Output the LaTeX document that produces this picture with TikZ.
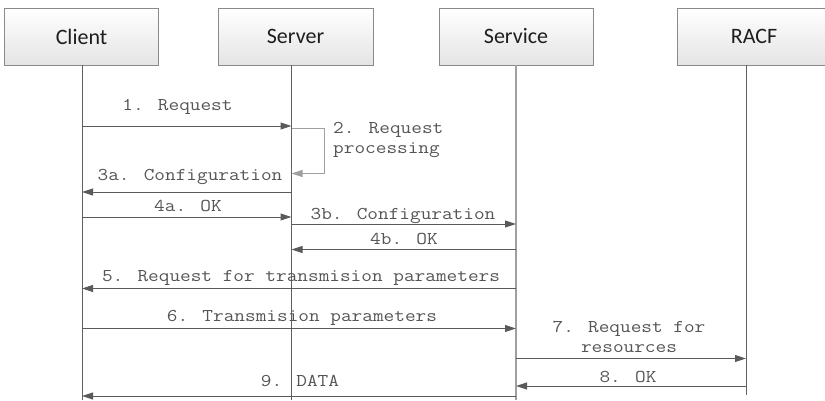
\documentclass[tikz,border=0pt]{standalone}
\usepackage{fontspec}
\setmainfont{Carlito}
\newfontfamily\msgfont{Latin Modern Mono}[FakeStretch=1.15]
\usetikzlibrary{arrows.meta}

\definecolor{boxline}{HTML}{8A8A8A}
\definecolor{boxbot}{HTML}{E4E4E4}
\definecolor{titlec}{HTML}{1E1E1E}
\definecolor{arrowc}{HTML}{5A5A5A}
\definecolor{lifec}{HTML}{606060}
\definecolor{lightc}{HTML}{A0A0A0}
\definecolor{labelc}{HTML}{555555}

\begin{document}
\begin{tikzpicture}[x=1bp,y=-1bp,
  actor/.style={draw=boxline, line width=1bp, top color=white, bottom color=boxbot,
    minimum height=57bp, inner sep=0pt, text=titlec,
    font=\fontsize{22bp}{26bp}\selectfont},
  life/.style={draw=lifec, line width=1bp},
  msg/.style={draw=arrowc, line width=1bp, -{Triangle[length=11bp,width=7bp]}},
  lbl/.style={font=\msgfont\fontsize{18bp}{20bp}\selectfont, text=labelc,
    inner sep=0pt, anchor=base, align=center}]

\useasboundingbox (0,0) rectangle (825,400);
\clip (0,0) rectangle (825,400);

% participants
\node[actor, minimum width=153bp] (client)  at (81.5,36.5) {Client};
\node[actor, minimum width=155bp] (server)  at (295.5,36.5) {Server};
\node[actor, minimum width=154bp] (service) at (516,36.5) {Service};
\node[actor, minimum width=154bp] (racf)    at (754,36.5) {RACF};

% lifelines
\coordinate (cl) at (82,65);
\coordinate (sv) at (291.5,65);
\coordinate (se) at (516,65);
\coordinate (ra) at (746,65);
\coordinate (bot) at (0,400);
\coordinate (botr) at (0,395);
\draw[life] (cl) -- (cl |- bot);
\draw[life] (sv) -- (sv |- bot);
\draw[life, draw=lightc, line width=1.4bp] (se) -- (se |- bot);
\draw[life] (ra) -- (ra |- botr);

% message rows
\coordinate (r1)  at (0,126);
\coordinate (r2a) at (0,128);
\coordinate (r2b) at (0,173.5);
\coordinate (r3a) at (0,192);
\coordinate (r4a) at (0,217);
\coordinate (r3b) at (0,224);
\coordinate (r4b) at (0,249.5);
\coordinate (r5)  at (0,288.5);
\coordinate (r6)  at (0,328.5);
\coordinate (r7)  at (0,358.5);
\coordinate (r8)  at (0,386);
\coordinate (r9)  at (0,396);
\coordinate (lpx) at (324,0);

% messages
\draw[msg] (cl |- r1) -- (sv |- r1);
\draw[msg, draw=lightc] (sv |- r2a) -- (lpx |- r2a) -- (lpx |- r2b) -- (sv |- r2b);
\draw[msg] (sv |- r3a) -- (cl |- r3a);
\draw[msg] (cl |- r4a) -- (sv |- r4a);
\draw[msg] (sv |- r3b) -- (se |- r3b);
\draw[msg] (se |- r4b) -- (sv |- r4b);
\draw[msg] (se |- r5) -- (cl |- r5);
\draw[msg] (cl |- r6) -- (se |- r6);
\draw[msg] (se |- r7) -- (ra |- r7);
\draw[msg] (ra |- r8) -- (se |- r8);
\draw[msg] (se |- r9) -- (cl |- r9);

% labels (base anchor of a two-line label sits on its last line)
\node[lbl] (l1)  at (177.5,110) {1. Request};
\node[lbl, anchor=base west, align=left] (l2) at (333,153) {2. Request\\processing};
\node[lbl] (l3a) at (190,180) {3a. Configuration};
\node[lbl] (l4a) at (188,211) {4a. OK};
\node[lbl] (l3b) at (403,219) {3b. Configuration};
\node[lbl] (l4b) at (404,244.3) {4b. OK};
\node[lbl] (l5)  at (301,281) {5. Request for transmision parameters};
\node[lbl] (l6)  at (302,321) {6. Transmision parameters};
\node[lbl] (l7)  at (629,352.7) {7. Request for\\resources};
\node[lbl] (l8)  at (628,382.7) {8. OK};
\node[lbl] (l9)  at (300,386) {9. DATA};
\end{tikzpicture}
\end{document}
